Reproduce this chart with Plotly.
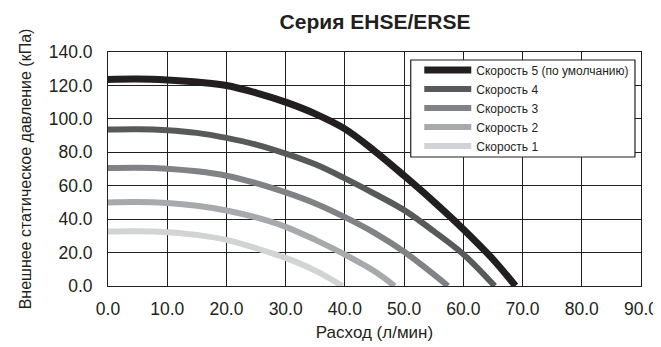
import plotly.graph_objects as go

# ---- data ----
speed_names = ["Скорость 5 (по умолчанию)", "Скорость 4", "Скорость 3", "Скорость 2", "Скорость 1"]

flow_s5 = [0, 5, 10, 15, 20, 25, 30, 35, 40, 45, 50, 55, 60, 65, 68.8]
pres_s5 = [123.6, 123.8, 123.2, 122, 120, 115.6, 110, 103, 94, 80.8, 66, 50.5, 34, 16, 0]

flow_s4 = [0, 5, 10, 15, 20, 25, 30, 35, 40, 45, 50, 55, 60, 65.3]
pres_s4 = [93.6, 93.8, 93.2, 91.6, 88.6, 84.6, 79.2, 72.8, 64.4, 55.2, 45.4, 32.8, 19, 0]

flow_s3 = [0, 5, 10, 15, 20, 25, 30, 35, 40, 45, 50, 55, 57.4]
pres_s3 = [70.6, 70.8, 70.2, 68.6, 66, 61.6, 56, 49.4, 41.2, 31.8, 20.5, 7, 0]

flow_s2 = [0, 5, 10, 15, 20, 25, 30, 35, 40, 45, 48.4]
pres_s2 = [50, 50.2, 49.6, 48, 45.2, 41, 35.4, 27.6, 18.8, 8.8, 0]

flow_s1 = [0, 5, 10, 15, 20, 25, 30, 35, 39.6]
pres_s1 = [32.6, 32.8, 32.2, 30.6, 27.6, 22.6, 16.8, 9.2, 0]

x_ticks = [0, 10, 20, 30, 40, 50, 60, 70, 80, 90]
y_ticks = [0, 20, 40, 60, 80, 100, 120, 140]

title_text = "Серия EHSE/ERSE"
x_title = "Расход (л/мин)"
y_title = "Внешнее статическое давление (кПа)"

# ---- styling ----
colors = ["#231f20", "#58595b", "#808285", "#a7a9ac", "#d1d3d4"]
widths = [7, 6, 6, 6, 6]
series = [(flow_s5, pres_s5), (flow_s4, pres_s4), (flow_s3, pres_s3),
          (flow_s2, pres_s2), (flow_s1, pres_s1)]

fig = go.Figure()
for name, (xs, ys), c, w in zip(speed_names, series, colors, widths):
    fig.add_trace(go.Scatter(
        x=xs, y=ys, mode="lines", name=name,
        line=dict(color=c, width=w, shape="spline", smoothing=1),
    ))

font_main = "Liberation Sans, Arial, sans-serif"
grid_col = "#231f20"

# page body has an 8px margin, so the figure is made 8px smaller
W, H = 653, 339

# legend frame (white box with border)
fig.add_shape(type="rect", xref="paper", yref="paper",
              x0=0.568, x1=0.9887, y0=0.5513, y1=0.9658,
              line=dict(color="#231f20", width=1.2), fillcolor="white", layer="above")

fig.update_layout(
    width=W, height=H,
    margin=dict(l=100, r=20, t=44, b=61, autoexpand=False),
    paper_bgcolor="white", plot_bgcolor="white",
    font=dict(family=font_main, color="#231f20", size=17),
    title=dict(text="<b>" + title_text + "</b>", x=367 / W, xanchor="center",
               xref="container", yref="container",
               y=1 - 6 / H, yanchor="top", font=dict(size=21, color="#231f20")),
    showlegend=True,
    legend=dict(
        x=0.584, y=0.985, xanchor="left", yanchor="top",
        bgcolor="rgba(0,0,0,0)", borderwidth=0,
        font=dict(family=font_main, size=12, color="#231f20"),
        itemwidth=47, tracegroupgap=0,
    ),
    xaxis=dict(
        range=[0, 90], tickvals=x_ticks, tickformat=".1f",
        showgrid=True, gridcolor=grid_col, gridwidth=1,
        showline=True, linecolor=grid_col, linewidth=1, mirror=True,
        zeroline=False, ticks="", ticklabelstandoff=7, automargin=False,
        title=dict(text=x_title, standoff=8, font=dict(size=17)),
        tickfont=dict(size=17.5),
    ),
    yaxis=dict(
        range=[0, 140], tickvals=y_ticks, tickformat=".1f",
        showgrid=True, gridcolor=grid_col, gridwidth=1,
        showline=True, linecolor=grid_col, linewidth=1, mirror=True,
        zeroline=False, ticks="", ticklabelstandoff=11, automargin=False,
        title=dict(text=y_title, standoff=13, font=dict(size=16)),
        tickfont=dict(size=17.5),
    ),
)

fig.write_html("out.html")
